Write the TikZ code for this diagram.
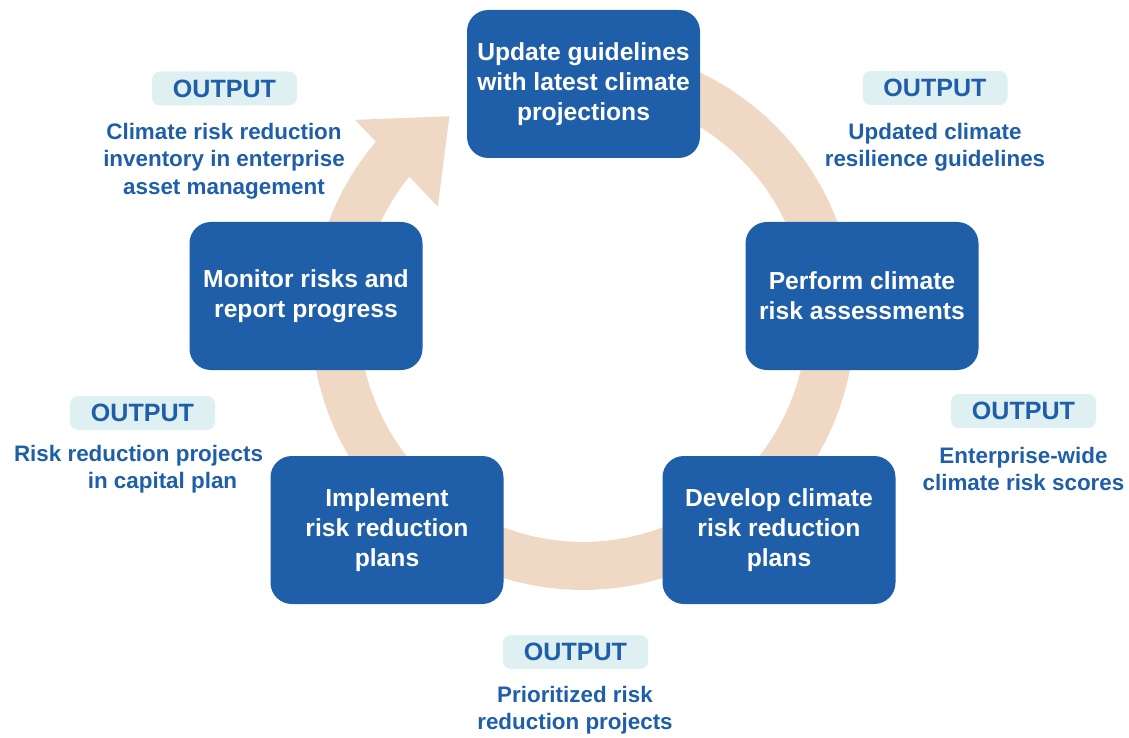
\documentclass[tikz,border=0pt]{standalone}
\usepackage{fontspec}
\setmainfont{Liberation Sans}
\usepackage{tikz}
\usetikzlibrary{calc}
\definecolor{boxblue}{HTML}{1F5EA8}
\definecolor{ringpeach}{HTML}{F0D9C4}
\definecolor{tagcyan}{HTML}{DEF0F2}

\begin{document}
\begin{tikzpicture}[x=0.75pt,y=-0.75pt,
    stage/.style={fill=boxblue,text=white,rounded corners=16pt,minimum width=174.75pt,minimum height=111pt,inner sep=0pt,align=center,font=\fontsize{18.5}{22.5}\selectfont\bfseries},
    outtag/.style={fill=tagcyan,text=boxblue,rounded corners=6pt,minimum width=108.75pt,minimum height=25.5pt,inner sep=0pt,font=\fontsize{18.8}{22}\selectfont\bfseries},
    outtext/.style={text=boxblue,align=center,inner sep=0pt,font=\fontsize{16.8}{20.6}\selectfont\bfseries}]
          \useasboundingbox (0,0) rectangle (1129,738);
          \coordinate (c) at (583,318);
          % cycle arrow behind the boxes
          \fill[ringpeach] plot[domain=260:581,samples=100] ({583+272*cos(\x)},{318+272*sin(\x)})
               -- plot[domain=581:260,samples=100] ({583+224*cos(\x)},{318+224*sin(\x)}) -- cycle;
          \fill[ringpeach] ($(c)+(221:302)$) -- ($(c)+(236.5:242)$) -- ($(c)+(217.5:183)$) -- cycle;

          \node[stage] (update) at (583.5,84) {Update guidelines\\with latest climate\\projections};
          \node[stage] (assess) at (862,296) {Perform climate\\risk assessments};
          \node[stage] (develop) at (779,530) {Develop climate\\risk reduction\\plans};
          \node[stage] (implement) at (387,530) {Implement\\risk reduction\\plans};
          \node[stage] (monitor) at (306,296) {Monitor risks and\\report progress};

          \node[outtag] (tagmonitor) at (224.5,88.5) {OUTPUT};
          \node[outtext] (outmonitor) at (224,161) {Climate risk reduction\\inventory in enterprise\\asset management};
          \node[outtag] (tagupdate) at (935,88) {OUTPUT};
          \node[outtext] (outupdate) at (935,147) {Updated climate\\resilience guidelines};
          \node[outtag] (tagassess) at (1023.5,411) {OUTPUT};
          \node[outtext] (outassess) at (1023.5,469) {Enterprise-wide\\climate risk scores};
          \node[outtag] (tagimplement) at (142.5,413) {OUTPUT};
          \node[outtext] (outimplement) at (138.5,469) {Risk reduction projects\\\hspace*{36pt}in capital plan};
          \node[outtag] (tagdevelop) at (575.5,652) {OUTPUT};
          \node[outtext] (outdevelop) at (575,710) {Prioritized risk\\reduction projects};
        \end{tikzpicture}
\end{document}
